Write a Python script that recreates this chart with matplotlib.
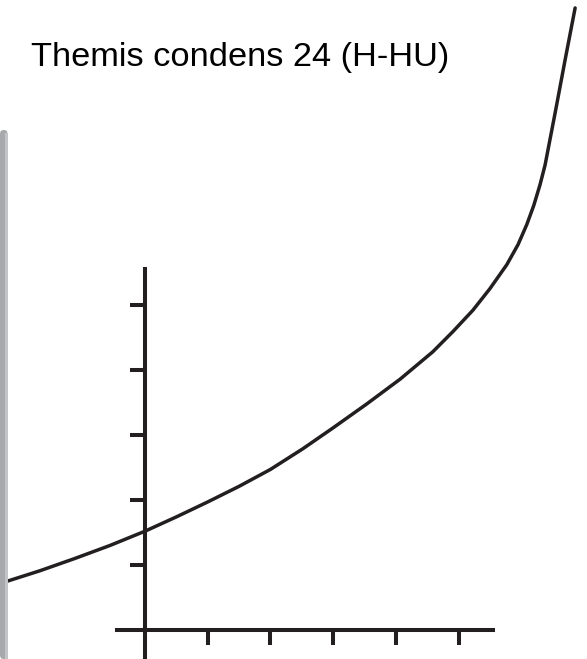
import matplotlib
matplotlib.use("Agg")
import matplotlib.pyplot as plt
from matplotlib.patches import FancyBboxPatch, Rectangle

# ---- data ----
title = "Themis condens 24 (H-HU)"
curve_x = [-2.20, -1.68, -1.12, -0.56, 0.0, 0.5, 1.0, 1.5, 2.0, 2.52, 3.0, 3.54,
           4.07, 4.59, 4.91, 5.23, 5.50, 5.77, 5.95, 6.09, 6.20, 6.30, 6.38, 6.43, 6.55, 6.70, 6.86]
curve_y = [0.75, 0.91, 1.10, 1.30, 1.52, 1.74, 1.97, 2.21, 2.47, 2.79, 3.11, 3.48,
           3.86, 4.28, 4.59, 4.92, 5.25, 5.62, 5.93, 6.24, 6.53, 6.85, 7.15, 7.40, 8.00, 8.77, 9.57]
x_ticks = [1, 2, 3, 4, 5]
y_ticks = [1, 2, 3, 4, 5]

INK = "#231f20"
W, H, DPI = 587, 659, 100
fig = plt.figure(figsize=(W / DPI, H / DPI), dpi=DPI)
fig.patch.set_facecolor("white")
ax = fig.add_axes([0, 0, 1, 1])
ax.set_facecolor("none")

# data <-> pixel mapping: x0 at px 145, 62.7 px/unit ; y0 at px 630 (from top), 65 px/unit
ax.set_xlim(-145 / 62.7, (W - 145) / 62.7)
ax.set_ylim(-(H - 630) / 65.0, 630 / 65.0)

# gray bar at left edge
bar = FancyBboxPatch((0, 0), 7.5 / W, (H - 130) / H, boxstyle="round,pad=0,rounding_size=0.006",
                     transform=fig.transFigure, facecolor="#a8a9ac", edgecolor="none", zorder=0)
fig.patches.append(bar)
strip = Rectangle((5.0 / W, 0), 2.5 / W, (H - 133) / H, transform=fig.transFigure,
                  facecolor="#c3c4c6", edgecolor="none", zorder=0)
fig.patches.append(strip)

# spines as the drawn axes
for s in ["top", "right"]:
    ax.spines[s].set_visible(False)
ax.spines["left"].set_position(("data", 0))
ax.spines["bottom"].set_position(("data", 0))
ax.spines["left"].set_bounds(-0.5, (630 - 269) / 65.0)
ax.spines["bottom"].set_bounds((117 - 145) / 62.7, (493 - 145) / 62.7)
for s in ["left", "bottom"]:
    ax.spines[s].set_linewidth(2.9)
    ax.spines[s].set_color(INK)
    ax.spines[s].set_zorder(3)

ax.set_xticks(x_ticks)
ax.set_yticks(y_ticks)
ax.set_xticklabels([])
ax.set_yticklabels([])
ax.tick_params(axis="both", direction="out", length=11, width=2.9, color=INK)

ax.plot(curve_x, curve_y, color=INK, lw=2.5, solid_capstyle="round",
        solid_joinstyle="round", clip_on=False, zorder=4)

fig.text(31 / W, 1 - 66 / H, title, fontsize=24.75, family=["Liberation Sans", "DejaVu Sans"],
         color="black", ha="left", va="baseline")

fig.savefig("out.png", dpi=DPI, facecolor="white")
